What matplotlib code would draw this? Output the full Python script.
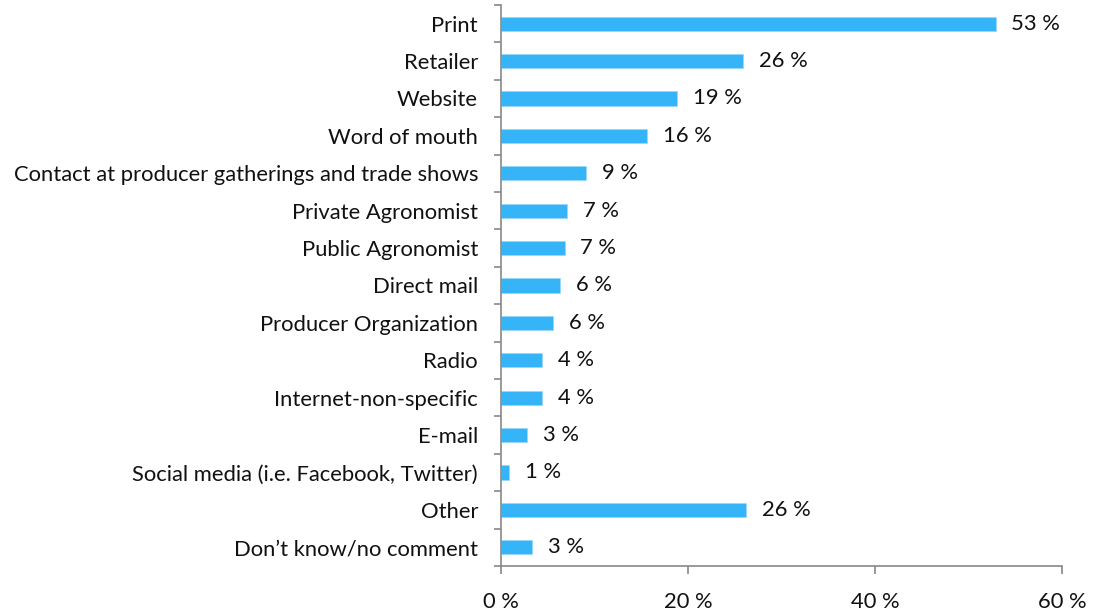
import matplotlib
matplotlib.use("Agg")
import matplotlib.pyplot as plt
import numpy as np

plt.rcParams['font.family'] = ['Lato', 'DejaVu Sans']

categories = [
    "Print",
    "Retailer",
    "Website",
    "Word of mouth",
    "Contact at producer gatherings and trade shows",
    "Private Agronomist",
    "Public Agronomist",
    "Direct mail",
    "Producer Organization",
    "Radio",
    "Internet-non-specific",
    "E-mail",
    "Social media (i.e. Facebook, Twitter)",
    "Other",
    "Don\u2019t know/no comment",
]
values = [52.9, 25.9, 18.8, 15.6, 9.1, 7.1, 6.8, 6.3, 5.6, 4.4, 4.4, 2.8, 0.9, 26.2, 3.3]
xticks = [0, 20, 40, 60]

FS = 15.8

fig = plt.figure(figsize=(10.93, 6.16), dpi=100)
ax = fig.add_axes([0.4584, 0.0812, 0.5132, 0.9107])

y = np.arange(len(categories))
ax.barh(y, values, height=0.38, color="#35B4F7", edgecolor="#9AD8FA", linewidth=0.6)

for yi, v in zip(y, values):
    ax.text(v + 1.7, yi, f"{v:.0f} %", va="center", ha="left", fontsize=FS, color="#111111")

ax.set_xlim(0, 60)
ax.set_ylim(len(categories) - 0.5, -0.5)
ax.set_xticks(xticks)
ax.set_xticklabels([f"{t} %" for t in xticks], fontsize=FS, color="#111111")
ax.set_yticks(y)
ax.set_yticklabels(categories, fontsize=FS, color="#111111")
ax.tick_params(axis="y", which="major", length=0, pad=16.5)
ax.set_yticks(np.arange(-0.5, len(categories), 1), minor=True)
ax.tick_params(axis="y", which="minor", length=5, color="#888888", width=1.2)
ax.tick_params(axis="x", which="major", length=6, color="#888888", width=1.2, pad=13)

for s in ["top", "right"]:
    ax.spines[s].set_visible(False)
for s in ["left", "bottom"]:
    ax.spines[s].set_color("#888888")
    ax.spines[s].set_linewidth(1.2)

fig.savefig("out.png", dpi=100)
